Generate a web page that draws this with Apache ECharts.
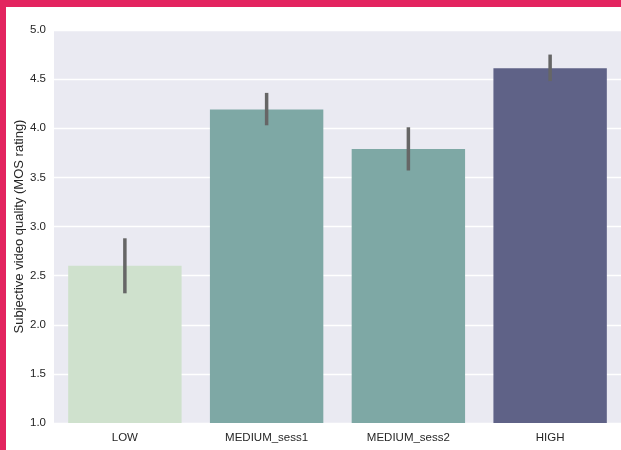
<!DOCTYPE html>
<html>
<head>
<meta charset="utf-8">
<script src="https://cdn.jsdelivr.net/npm/echarts@6/dist/echarts.min.js"></script>
<style>
  html, body { margin: 0; padding: 0; background: #ffffff; }
  #chart { width: 621px; height: 450px; }
</style>
</head>
<body>
<div id="chart"></div>
<script>
// Mean opinion score per streaming condition, with confidence intervals
const categories = ['LOW', 'MEDIUM_sess1', 'MEDIUM_sess2', 'HIGH'];
const meanScores = [2.60, 4.19, 3.79, 4.61];
const ciLow = [2.32, 4.03, 3.57, 4.48];
const ciHigh = [2.88, 4.36, 4.01, 4.75];
const barColors = ['#cfe1cd', '#7ea8a5', '#7ea8a5', '#5f6287'];
const yTicks = [1.0, 1.5, 2.0, 2.5, 3.0, 3.5, 4.0, 4.5, 5.0];

const chart = echarts.init(document.getElementById('chart'));

const errorData = categories.map((c, i) => [i, ciLow[i], ciHigh[i]]);

chart.setOption({
  animation: false,
  textStyle: { fontFamily: 'Liberation Sans, Arial, sans-serif' },
  graphic: [
    { type: 'rect', shape: { x: 0, y: 0, width: 621, height: 7 }, style: { fill: '#e3245f' }, z: 100 },
    { type: 'rect', shape: { x: 0, y: 0, width: 6, height: 450 }, style: { fill: '#e3245f' }, z: 100 }
  ],
  grid: {
    left: 54, right: 0, top: 30, bottom: 27,
    show: true, backgroundColor: '#eaeaf2', borderWidth: 0
  },
  xAxis: {
    type: 'category',
    data: categories,
    axisLine: { show: false },
    axisTick: { show: false },
    axisLabel: { color: '#262626', fontSize: 11.5, margin: 9 }
  },
  yAxis: {
    type: 'value',
    min: yTicks[0],
    max: yTicks[yTicks.length - 1],
    interval: 0.5,
    name: 'Subjective video quality (MOS rating)',
    nameLocation: 'middle',
    nameGap: 28,
    nameMoveOverlap: false,
    nameTextStyle: { color: '#262626', fontSize: 13 },
    axisLine: { show: false },
    axisTick: { show: false },
    axisLabel: {
      color: '#262626', fontSize: 11.5, margin: 8,
      formatter: v => v.toFixed(1)
    },
    splitLine: { lineStyle: { color: '#ffffff', width: 1.3 } }
  },
  series: [
    {
      type: 'bar',
      data: meanScores.map((v, i) => ({ value: v, itemStyle: { color: barColors[i] } })),
      barCategoryGap: '20%',
      z: 2
    },
    {
      type: 'custom',
      data: errorData,
      z: 3,
      renderItem: function (params, api) {
        const x = api.value(0);
        const lo = api.coord([x, api.value(1)]);
        const hi = api.coord([x, api.value(2)]);
        return {
          type: 'line',
          shape: { x1: lo[0], y1: lo[1], x2: hi[0], y2: hi[1] },
          style: { stroke: '#666666', lineWidth: 3.5 }
        };
      }
    }
  ]
});
</script>
</body>
</html>
